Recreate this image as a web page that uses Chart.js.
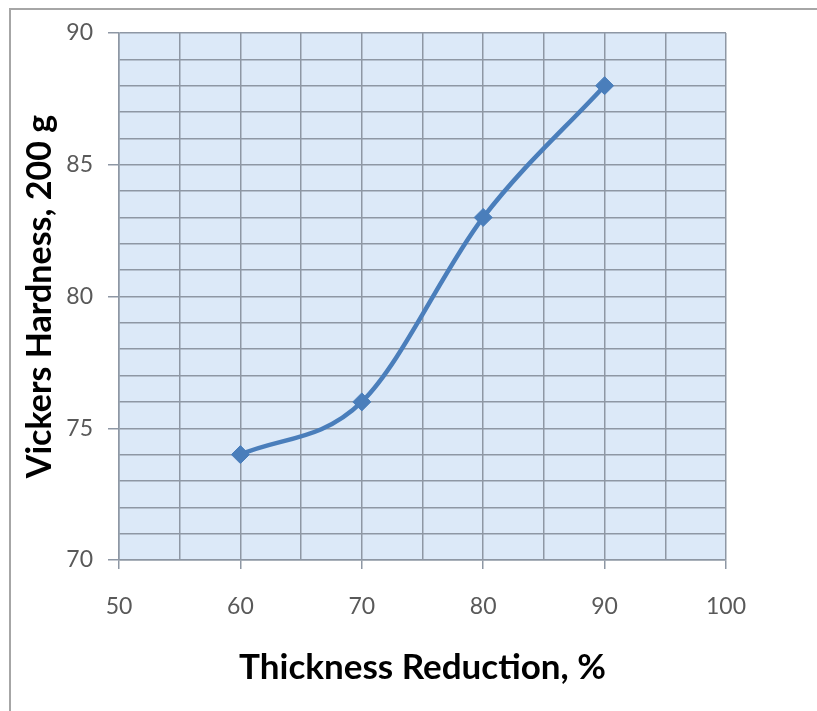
<!DOCTYPE html>
<html>
<head>
<meta charset="utf-8">
<script src="https://cdn.jsdelivr.net/npm/chart.js@4.4.1/dist/chart.umd.min.js"></script>
<style>
  html, body { margin: 0; padding: 0; background: #fff; overflow: hidden; }
  #wrap { position: relative; width: 817px; height: 711px; overflow: hidden; }
  #frame { position: absolute; left: 9px; top: 8px; width: 808px; height: 703px;
           border-left: 2px solid #a6a6a6; border-top: 2px solid #a6a6a6; box-sizing: border-box; }
  canvas { position: absolute; left: 0; top: 0; }
</style>
</head>
<body>
<div id="wrap">
  <div id="frame"></div>
  <canvas id="chart" width="817" height="711"></canvas>
</div>
<script>
/* ── chart values ── */
var thicknessReduction = [60, 70, 80, 90];
var vickersHardness    = [74, 76, 83, 88];
var xAxisRange = [50, 100];
var yAxisRange = [70, 90];
var xTitle = 'Thickness Reduction, %';
var yTitle = 'Vickers Hardness, 200 g';

// light blue plot background behind the grid
var plotBackground = {
    id: 'plotBackground',
    beforeDraw: function (chart) {
        var a = chart.chartArea, ctx = chart.ctx;
        ctx.save();
        ctx.fillStyle = '#dce9f8';
        ctx.fillRect(a.left, a.top, a.right - a.left, a.bottom - a.top);
        ctx.restore();
    }
};

var points = thicknessReduction.map(function (x, i) {
    return { x: x, y: vickersHardness[i] };
});

var gridColor = '#8e97a4';

var ctx = document.getElementById('chart').getContext('2d');
new Chart(ctx, {
    type: 'line',
    data: {
        datasets: [{
            data: points,
            borderColor: '#4a7ebb',
            backgroundColor: '#4a7ebb',
            borderWidth: 4.5,
            tension: 0.4,
            cubicInterpolationMode: 'monotone',
            pointStyle: 'rectRot',
            pointRadius: 9,
            pointHoverRadius: 9,
            pointBorderWidth: 1,
            fill: false
        }]
    },
    plugins: [plotBackground],
    options: {
        responsive: false,
        animation: false,
        layout: { padding: { left: 0, top: 33, right: 91, bottom: 0 } },
        plugins: { legend: { display: false }, tooltip: { enabled: false } },
        scales: {
            x: {
                type: 'linear',
                min: xAxisRange[0],
                max: xAxisRange[1],
                afterFit: function (s) { s.height = 151; },
                border: { display: true, color: gridColor, width: 1.5 },
                grid: {
                    color: gridColor,
                    lineWidth: 1.5,
                    tickLength: 9,
                    tickColor: function (c) {
                        return c.tick && c.tick.value % 10 === 0 ? gridColor : 'rgba(0,0,0,0)';
                    }
                },
                ticks: {
                    stepSize: 5,
                    autoSkip: false,
                    padding: 24,
                    color: '#595959',
                    font: { family: 'Lato', size: 23 },
                    maxRotation: 0,
                    callback: function (v) { return v % 10 === 0 ? v : ''; }
                },
                title: {
                    display: true,
                    text: xTitle,
                    color: '#000',
                    font: { family: 'Lato', size: 35, weight: 'bold' },
                    padding: { top: 0, bottom: 22 }
                }
            },
            y: {
                type: 'linear',
                min: yAxisRange[0],
                max: yAxisRange[1],
                afterFit: function (s) { s.width = 119; },
                border: { display: true, color: gridColor, width: 1.5 },
                grid: {
                    color: gridColor,
                    lineWidth: 1.5,
                    tickLength: 11,
                    tickColor: function (c) {
                        return c.tick && c.tick.value % 5 === 0 ? gridColor : 'rgba(0,0,0,0)';
                    }
                },
                ticks: {
                    stepSize: 1,
                    autoSkip: false,
                    padding: 15,
                    color: '#595959',
                    font: { family: 'Lato', size: 23 },
                    callback: function (v) { return v % 5 === 0 ? v : ''; }
                },
                title: {
                    display: true,
                    text: yTitle,
                    color: '#000',
                    font: { family: 'Lato', size: 34, weight: 'bold' },
                    padding: { top: 20, bottom: 0 }
                }
            }
        }
    }
});
</script>
</body>
</html>
